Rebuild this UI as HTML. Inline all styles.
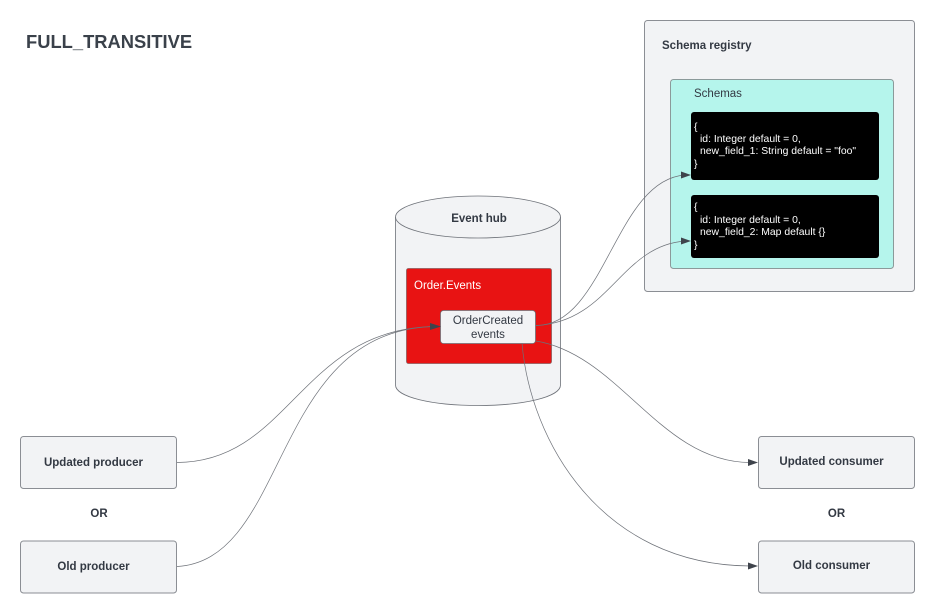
<!DOCTYPE html>
<html>
<head>
<meta charset="utf-8">
<style>
html,body{margin:0;padding:0;background:#fff;}
svg{display:block;filter:blur(0.3px);}
text{font-family:"Liberation Sans",Arial,sans-serif;fill:#333943;}
.b{font-weight:700;font-size:11.5px;}
.w{fill:#fff;font-size:11.5px;}
.c{fill:#fff;font-size:10.4px;}
.t{font-size:11.5px;}
</style>
</head>
<body>
<svg width="936" height="614" viewBox="0 0 936 614" xmlns="http://www.w3.org/2000/svg">
<rect width="936" height="614" fill="#fff"/>
<text x="26" y="48" style="font-weight:700;font-size:18.35px;fill:#3a414a">FULL_TRANSITIVE</text>

<rect x="644.5" y="20.5" width="270" height="271" rx="3" fill="#f2f3f5" stroke="#8b8e94"/>
<text x="662" y="49" class="b">Schema registry</text>
<rect x="670.5" y="79.5" width="223" height="189" rx="3" fill="#b5f5ec" stroke="#8b9a9a"/>
<text x="694" y="97" class="t">Schemas</text>
<rect x="691" y="112" width="188" height="68" rx="3" fill="#000"/>
<text x="694" y="130" class="c">{</text>
<text x="700" y="142" class="c">id: Integer default = 0,</text>
<text x="700" y="154" class="c">new_field_1: String default = "foo"</text>
<text x="694" y="167" class="c">}</text>
<rect x="691" y="195" width="188" height="63" rx="3" fill="#000"/>
<text x="694" y="210" class="c">{</text>
<text x="700" y="223" class="c">id: Integer default = 0,</text>
<text x="700" y="235" class="c">new_field_2: Map default {}</text>
<text x="694" y="248" class="c">}</text>

<path d="M395.5 217V385C395.5 397 432 405.500 478 405.500S560.500 397 560.500 385V217" fill="#f2f3f5" stroke="#6d7178" stroke-width="0.8"/>
<ellipse cx="478" cy="217" rx="82.500" ry="21" fill="#f2f3f5" stroke="#6d7178" stroke-width="0.8"/>
<text x="479" y="222" class="b" text-anchor="middle">Event hub</text>
<rect x="406.500" y="268.500" width="145" height="95" rx="2" fill="#e81313" stroke="#8a5a5a" stroke-width="0.8"/>
<text x="414" y="289" class="w">Order.Events</text>
<rect x="440.500" y="310.500" width="95" height="33" rx="3" fill="#f2f3f5" stroke="#6d7178" stroke-width="0.8"/>
<text x="488" y="324" text-anchor="middle" class="t">OrderCreated</text>
<text x="488" y="338" text-anchor="middle" class="t">events</text>

<rect x="20.500" y="436.500" width="156" height="52" rx="3" fill="#f2f3f5" stroke="#8b8e94"/>
<text x="93.500" y="466" class="b" text-anchor="middle">Updated producer</text>
<text x="99" y="517" class="b" text-anchor="middle">OR</text>
<rect x="20.500" y="541" width="156" height="52" rx="3" fill="#f2f3f5" stroke="#8b8e94"/>
<text x="93.500" y="570" class="b" text-anchor="middle">Old producer</text>

<rect x="758.500" y="436.500" width="156" height="52" rx="3" fill="#f2f3f5" stroke="#8b8e94"/>
<text x="831.500" y="465" class="b" text-anchor="middle">Updated consumer</text>
<text x="836.500" y="517" class="b" text-anchor="middle">OR</text>
<rect x="758.500" y="541" width="156" height="52" rx="3" fill="#f2f3f5" stroke="#8b8e94"/>
<text x="831.500" y="569" class="b" text-anchor="middle">Old consumer</text>

<g fill="none" stroke="#6d7178" stroke-width="0.7">
<path d="M177 462.500C290 462 300 330 433 326.500"/>
<path d="M177 566.500C290 560 270 332 433 326.500"/>
<path d="M536 325.500C605 326 615 180 685 175"/>
<path d="M536 325.500C610 322 620 246 685 241"/>
<path d="M536 341C620 355 660 462 750 462.500"/>
<path d="M522 343C530 440 600 565 750 566"/>
</g>
<g fill="#3f444c">
<path d="M441 326.500L430 323V330Z"/>
<path d="M691 175L681 171.500V178.500Z"/>
<path d="M691 241L681 237.500V244.500Z"/>
<path d="M758 462.500L748 459V466Z"/>
<path d="M758 566L748 562.500V569.500Z"/>
</g>
</svg>
</body>
</html>
